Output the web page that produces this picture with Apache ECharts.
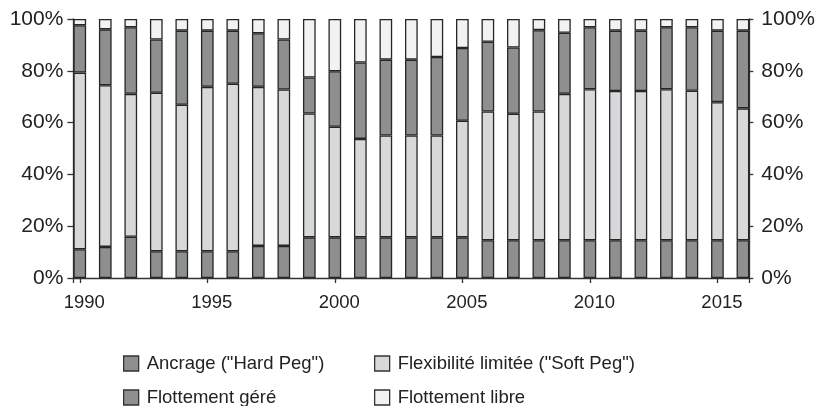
<!DOCTYPE html>
<html>
<head>
<meta charset="utf-8">
<script src="https://cdn.jsdelivr.net/npm/echarts@6/dist/echarts.min.js"></script>
<style>
  html, body { margin: 0; padding: 0; background: #fff; }
  #chart { width: 819px; height: 406px; }
</style>
</head>
<body>
<div id="chart"></div>
<script>
// années et parts (%) par régime de change
var years = [1990, 1991, 1992, 1993, 1994, 1995, 1996, 1997, 1998, 1999, 2000, 2001, 2002, 2003,
  2004, 2005, 2006, 2007, 2008, 2009, 2010, 2011, 2012, 2013, 2014, 2015, 2016];
var ancrage = [11.1, 12.0, 15.9, 10.3, 10.3, 10.3, 10.3, 12.4, 12.4, 15.7, 15.7, 15.7, 15.7, 15.7,
  15.7, 15.7, 14.6, 14.6, 14.6, 14.6, 14.6, 14.6, 14.6, 14.6, 14.6, 14.6, 14.6];
var flexibilite = [68.2, 62.4, 55.2, 61.2, 56.6, 63.5, 64.7, 61.4, 60.4, 47.8, 42.7, 38.0, 39.3, 39.3,
  39.3, 45.0, 49.7, 48.8, 49.7, 56.5, 58.3, 57.6, 57.6, 58.3, 57.7, 53.3, 50.9];
var flottementGere = [18.3, 21.6, 25.7, 20.6, 28.6, 21.7, 20.5, 20.7, 19.3, 13.9, 21.4, 29.5, 29.3, 29.3,
  30.3, 28.1, 26.9, 25.6, 31.4, 23.6, 23.9, 23.3, 23.3, 23.9, 24.5, 27.6, 30.0];
var flottementLibre = [2.4, 4.0, 3.2, 7.9, 4.5, 4.5, 4.5, 5.5, 7.9, 22.6, 20.2, 16.8, 15.7, 15.7,
  14.7, 11.2, 8.8, 11.0, 4.3, 5.3, 3.2, 4.5, 4.5, 3.2, 3.2, 4.5, 4.5];
var yearLabels = [1990, 1995, 2000, 2005, 2010, 2015];
var names = ['Ancrage ("Hard Peg")', 'Flexibilité limitée ("Soft Peg")', 'Flottement géré', 'Flottement libre'];

var FONT = 'Liberation Sans, Arial, sans-serif';
var dark = '#8e8f91', light = '#d7d8da', blanc = '#f2f2f2', ink = '#262626';

// valeur en premier pour que la pile se fasse sur l'axe y
function pairs(arr) {
  return years.map(function (y, i) { return [arr[i], y]; });
}

function serie(name, arr, color) {
  return {
    name: name,
    type: 'bar',
    stack: 'total',
    barWidth: 12.7,
    encode: { x: 1, y: 0 },
    data: pairs(arr),
    itemStyle: { color: color, borderColor: ink, borderWidth: 1.3 },
    emphasis: { disabled: true }
  };
}

function legende(name, left, top) {
  return {
    data: [name],
    left: left,
    top: top,
    padding: 0,
    itemWidth: 15,
    itemHeight: 15,
    icon: 'rect',
    selectedMode: false,
    itemStyle: { borderColor: '#333', borderWidth: 1.3 },
    textStyle: { fontFamily: FONT, fontSize: 18.5, color: '#222', padding: [0, 0, 0, 3] }
  };
}

var yBase = {
  type: 'value',
  min: 0,
  max: 100,
  interval: 20,
  splitLine: { show: false },
  axisLine: { show: true, lineStyle: { color: '#333', width: 1.3 } },
  axisTick: { show: true, length: 6, lineStyle: { color: '#333', width: 1.3 } },
  axisLabel: { formatter: '{value}%', fontFamily: FONT, fontSize: 21, color: '#222', margin: 10 }
};

var chart = echarts.init(document.getElementById('chart'));
chart.setOption({
  animation: false,
  backgroundColor: '#fff',
  grid: { left: 73.4, right: 69.7, top: 19, bottom: 128, containLabel: false },
  legend: [
    legende(names[0], 123, 354),
    legende(names[1], 374, 354),
    legende(names[2], 123, 388),
    legende(names[3], 374, 388)
  ],
  xAxis: {
    type: 'value',
    min: 1989.75,
    max: 2016.25,
    splitLine: { show: false },
    axisLine: { show: true, lineStyle: { color: '#333', width: 1.3 } },
    axisTick: {
      show: true, length: 5,
      customValues: [1989.75].concat(yearLabels, [2016.25]),
      lineStyle: { color: '#333', width: 1.3 }
    },
    axisLabel: {
      customValues: yearLabels,
      formatter: function (v) { return String(v); },
      fontFamily: FONT, fontSize: 18.5, color: '#222', margin: 15,
      padding: [0, 0, 0, 9]
    }
  },
  yAxis: [
    Object.assign({}, yBase, { position: 'left' }),
    Object.assign({}, yBase, {
      position: 'right',
      axisTick: { show: true, length: 4, lineStyle: { color: '#333', width: 1.3 } },
      axisLabel: { formatter: '{value}%', fontFamily: FONT, fontSize: 21, color: '#222', margin: 12 }
    })
  ],
  series: [
    serie(names[0], ancrage, dark),
    serie(names[1], flexibilite, light),
    serie(names[2], flottementGere, dark),
    serie(names[3], flottementLibre, blanc)
  ]
});
</script>
</body>
</html>
